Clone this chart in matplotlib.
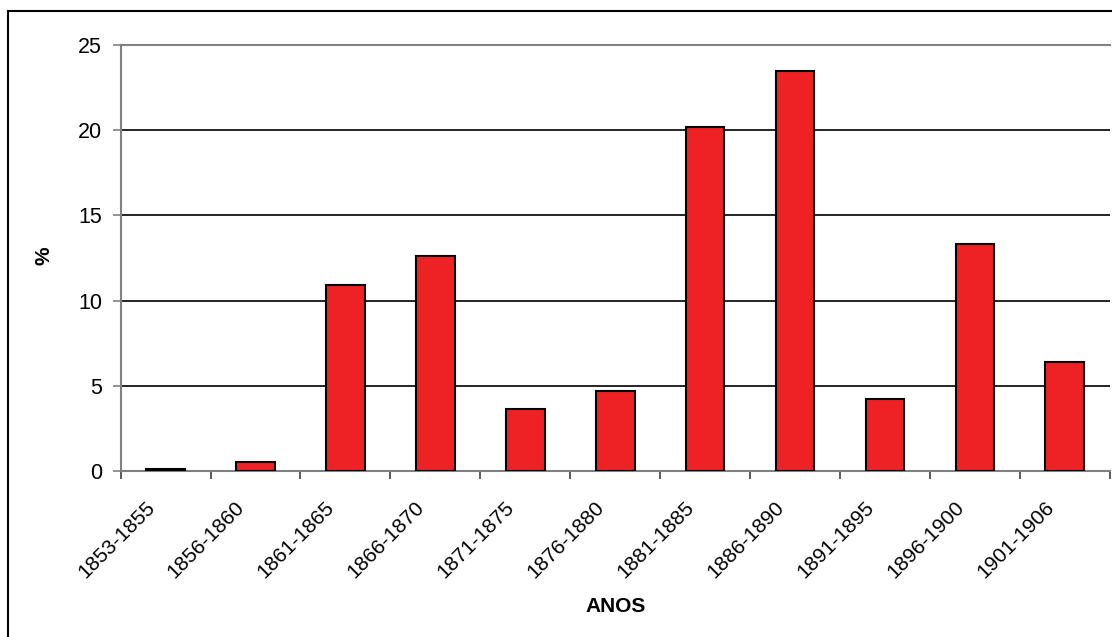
import numpy as np
import matplotlib
matplotlib.use("Agg")
import matplotlib.pyplot as plt
from matplotlib.patches import Rectangle
from matplotlib.transforms import ScaledTranslation

# data
periods = ["1853-1855", "1856-1860", "1861-1865", "1866-1870", "1871-1875",
           "1876-1880", "1881-1885", "1886-1890", "1891-1895", "1896-1900",
           "1901-1906"]
percent = [0.1, 0.5, 10.9, 12.6, 3.6, 4.7, 20.2, 23.5, 4.2, 13.3, 6.4]

plt.rcParams['font.family'] = ['Liberation Sans', 'DejaVu Sans']

fig = plt.figure(figsize=(11.12, 6.37), dpi=100)
ax = fig.add_axes([0.1085, 0.2611, 0.8895, 0.6678])

x = np.arange(len(periods))
ax.bar(x, percent, width=0.43, color='#EE2224', edgecolor='black',
       linewidth=1.5, zorder=3)

ax.set_xlim(-0.5, len(periods) - 0.5)
ax.set_ylim(0, 25)
ax.set_yticks([0, 5, 10, 15, 20, 25])
for v in [5, 10, 15, 20]:
    ax.axhline(v, color='black', linewidth=1.2, zorder=1)

ax.set_xticks(x)
ax.set_xticklabels(periods, rotation=45, ha='right', va='center',
                   rotation_mode='anchor', fontsize=15)
ax.tick_params(axis='x', which='major', length=0, pad=24)
shift = ScaledTranslation(-14 / 100, 0, fig.dpi_scale_trans)
for lab in ax.get_xticklabels():
    lab.set_transform(lab.get_transform() + shift)
ax.set_xticks(np.arange(-0.5, len(periods)), minor=True)
ax.tick_params(axis='x', which='minor', length=6, width=1.2, color='#404040')
ax.tick_params(axis='y', length=6, width=1.2, color='#808080', labelsize=15.5, pad=7.5)

for s in ['left', 'bottom', 'top']:
    ax.spines[s].set_color('#808080')
    ax.spines[s].set_linewidth(1.5)
ax.spines['right'].set_visible(False)

ax.set_xlabel('ANOS', fontsize=15, fontweight='bold', labelpad=11)
ax.set_ylabel('%', fontsize=15, fontweight='bold')
ax.yaxis.set_label_coords(-0.068, 0.506)

# outer frame, cut off on the right and bottom like the reference
fig.patches.append(Rectangle((8 / 1112, -0.1), 1.2, (637 - 11) / 637 + 0.1,
                             transform=fig.transFigure, fill=False,
                             edgecolor='black', linewidth=1.5))

fig.savefig('out.png', dpi=100)
